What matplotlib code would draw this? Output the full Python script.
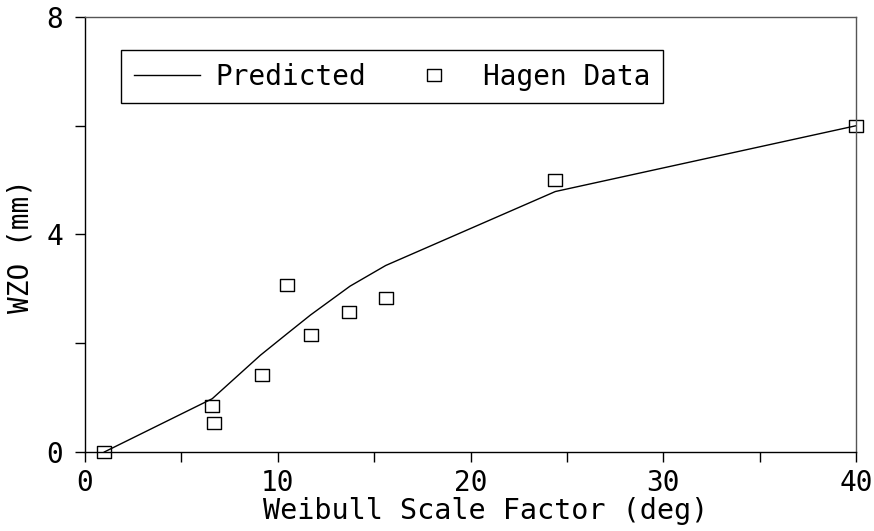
import matplotlib.pyplot as plt
from matplotlib.path import Path

# Hagen data
data_x = [1.0, 6.6, 6.7, 9.2, 10.5, 11.7, 13.7, 15.6, 24.4, 40.0]
data_y = [0.0, 0.85, 0.54, 1.42, 3.07, 2.15, 2.57, 2.83, 5.0, 6.0]

# predicted curve
pred_x = [1.0, 6.6, 9.1, 10.5, 11.7, 13.75, 15.6, 24.4, 40.0]
pred_y = [0.0, 0.98, 1.78, 2.18, 2.52, 3.05, 3.43, 4.79, 6.0]

x_ticks = [0, 5, 10, 15, 20, 25, 30, 35, 40]
x_labels = ["0", "", "10", "", "20", "", "30", "", "40"]
y_ticks = [0, 2, 4, 6, 8]
y_labels = ["0", "", "4", "", "8"]

plt.rcParams['font.family'] = ['DejaVu Sans Mono']
plt.rcParams['font.size'] = 20

box = Path([(-1, -0.78), (1, -0.78), (1, 0.78), (-1, 0.78), (-1, -0.78)],
           [Path.MOVETO, Path.LINETO, Path.LINETO, Path.LINETO, Path.CLOSEPOLY])

fig = plt.figure(figsize=(8.74, 5.31), dpi=100)
ax = fig.add_axes([0.0973, 0.1488, 0.8821, 0.8192])

ax.plot(pred_x, pred_y, color="black", lw=1.0, label="Predicted")
ax.plot(data_x, data_y, ls="none", marker=box, ms=10.5, mfc="none",
        mec="black", mew=1.0, label="Hagen Data", clip_on=False)

ax.set_xlim(0, 40)
ax.set_ylim(0, 8)
ax.set_xticks(x_ticks)
ax.set_xticklabels(x_labels)
ax.set_yticks(y_ticks)
ax.set_yticklabels(y_labels)
ax.tick_params(direction="out", length=7, width=1.0, labelsize=20)
ax.tick_params(axis="x", pad=5)
ax.tick_params(axis="y", pad=9)

for s in ["top", "right"]:
    ax.spines[s].set_color("#555555")
for s in ax.spines.values():
    s.set_linewidth(1.0)

ax.set_xlabel("Weibull Scale Factor (deg)", fontsize=20.5, labelpad=0)
ax.xaxis.label.set_x(0.519)
ax.set_ylabel("WZO (mm)", fontsize=20, labelpad=8)
ax.yaxis.label.set_y(0.474)

leg = ax.legend(loc="upper left", bbox_to_anchor=(0.0467, 0.924), ncol=2,
                borderaxespad=0, frameon=True, fancybox=False, framealpha=1,
                edgecolor="black", handlelength=2.4, handletextpad=0.55,
                columnspacing=1.25, borderpad=0.45, fontsize=20)
leg.get_frame().set_linewidth(1.0)

fig.savefig("out.png", dpi=100)
